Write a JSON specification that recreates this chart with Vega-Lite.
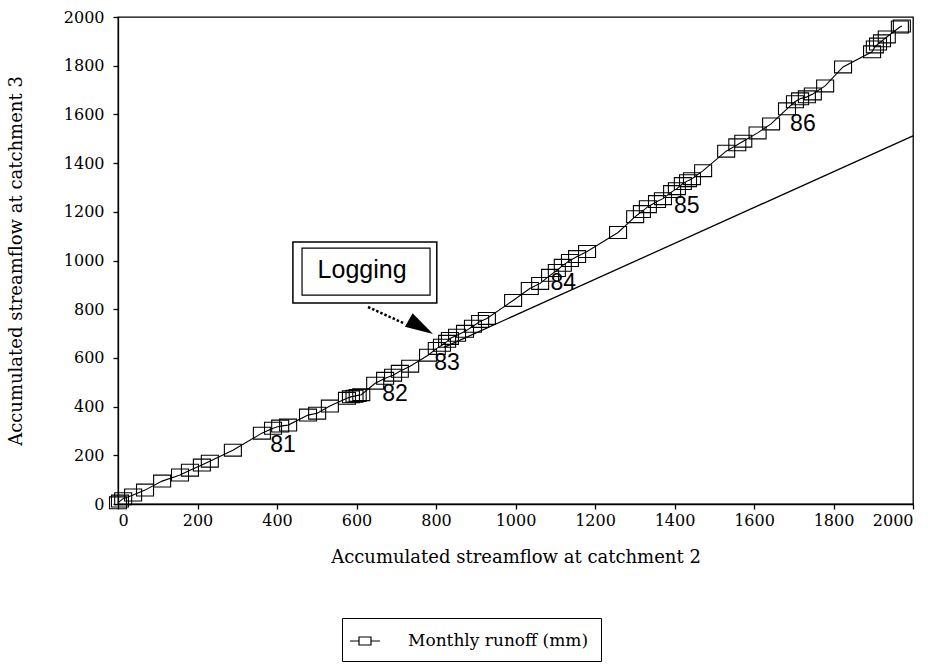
{
  "$schema": "https://vega.github.io/schema/vega-lite/v6.json",
  "autosize": {"type": "none"},
  "padding": {"left": 118, "top": 17, "right": 24, "bottom": 162},
  "width": 795,
  "height": 487,
  "background": "white",
  "config": {
    "view": {"stroke": "black", "strokeWidth": 1.3},
    "axis": {
      "grid": false,
      "domainColor": "black",
      "domainWidth": 1.3,
      "tickColor": "black",
      "tickWidth": 1.3,
      "tickSize": 5,
      "labelColor": "black",
      "labelFont": "DejaVu Serif",
      "labelFontSize": 16,
      "titleColor": "black",
      "titleFont": "DejaVu Serif",
      "titleFontSize": 18,
      "titleFontWeight": "normal",
      "format": "d"
    }
  },
  "datasets": {
    "runoff": [
      {"x": 0, "y": 5}, {"x": 5, "y": 12}, {"x": 13, "y": 22}, {"x": 38, "y": 37}, {"x": 68, "y": 57},
      {"x": 111, "y": 94}, {"x": 156, "y": 119}, {"x": 181, "y": 139}, {"x": 211, "y": 160}, {"x": 231, "y": 176},
      {"x": 289, "y": 221}, {"x": 362, "y": 291}, {"x": 390, "y": 311}, {"x": 408, "y": 320}, {"x": 428, "y": 324},
      {"x": 478, "y": 365}, {"x": 501, "y": 373}, {"x": 533, "y": 402}, {"x": 576, "y": 434}, {"x": 586, "y": 440},
      {"x": 595, "y": 443}, {"x": 603, "y": 446}, {"x": 612, "y": 449}, {"x": 647, "y": 496}, {"x": 672, "y": 516},
      {"x": 692, "y": 529}, {"x": 709, "y": 545}, {"x": 735, "y": 566}, {"x": 780, "y": 611}, {"x": 802, "y": 639},
      {"x": 815, "y": 652}, {"x": 828, "y": 668}, {"x": 835, "y": 680}, {"x": 853, "y": 693}, {"x": 873, "y": 709},
      {"x": 893, "y": 730}, {"x": 911, "y": 750}, {"x": 928, "y": 762}, {"x": 994, "y": 836}, {"x": 1036, "y": 885},
      {"x": 1062, "y": 906}, {"x": 1087, "y": 939}, {"x": 1104, "y": 959}, {"x": 1119, "y": 980}, {"x": 1137, "y": 1000},
      {"x": 1155, "y": 1016}, {"x": 1180, "y": 1037}, {"x": 1258, "y": 1115}, {"x": 1301, "y": 1180}, {"x": 1318, "y": 1201},
      {"x": 1333, "y": 1221}, {"x": 1356, "y": 1242}, {"x": 1371, "y": 1254}, {"x": 1394, "y": 1283}, {"x": 1406, "y": 1295},
      {"x": 1421, "y": 1316}, {"x": 1434, "y": 1328}, {"x": 1444, "y": 1336}, {"x": 1472, "y": 1369}, {"x": 1530, "y": 1449},
      {"x": 1558, "y": 1475}, {"x": 1573, "y": 1490}, {"x": 1609, "y": 1524}, {"x": 1643, "y": 1561}, {"x": 1683, "y": 1623},
      {"x": 1703, "y": 1652}, {"x": 1716, "y": 1664}, {"x": 1733, "y": 1672}, {"x": 1748, "y": 1684}, {"x": 1779, "y": 1717},
      {"x": 1824, "y": 1795}, {"x": 1897, "y": 1857}, {"x": 1904, "y": 1877}, {"x": 1912, "y": 1889}, {"x": 1922, "y": 1902},
      {"x": 1934, "y": 1918}, {"x": 1967, "y": 1959}, {"x": 1972, "y": 1963}
    ],
    "trend": [{"x": 820, "y": 643}, {"x": 2000, "y": 1512}],
    "years": [
      {"x": 415, "y": 242, "label": "81"},
      {"x": 697, "y": 451, "label": "82"},
      {"x": 828, "y": 578, "label": "83"},
      {"x": 1120, "y": 906, "label": "84"},
      {"x": 1431, "y": 1225, "label": "85"},
      {"x": 1723, "y": 1560, "label": "86"}
    ],
    "outerBox": [{"x": 440, "x2": 802, "y": 825, "y2": 1076}],
    "innerBox": [{"x": 463, "x2": 785, "y": 858, "y2": 1051}],
    "note": [{"x": 614, "y": 961, "label": "Logging"}],
    "shaft": [{"x": 629, "y": 809, "x2": 722, "y2": 740}],
    "head": [{"x": 762, "y": 727}]
  },
  "encoding": {
    "x": {"field": "x", "type": "quantitative", "scale": {"domain": [0, 2000], "nice": false, "zero": false},
      "axis": {"values": [0, 200, 400, 600, 800, 1000, 1200, 1400, 1600, 1800, 2000], "labelPadding": 3, "title": "Accumulated streamflow at catchment 2", "titlePadding": 20}},
    "y": {"field": "y", "type": "quantitative", "scale": {"domain": [0, 2000], "nice": false, "zero": false},
      "axis": {"values": [0, 200, 400, 600, 800, 1000, 1200, 1400, 1600, 1800, 2000], "labelPadding": 9, "title": "Accumulated streamflow at catchment 3", "titlePadding": 38}}
  },
  "layer": [
    {"data": {"name": "runoff"}, "mark": {"type": "line", "color": "black", "strokeWidth": 1.1}},
    {"data": {"name": "runoff"},
      "mark": {"type": "point", "shape": "M-1,-0.7L1,-0.7L1,0.7L-1,0.7Z", "size": 289, "filled": false, "strokeWidth": 1.1, "opacity": 1},
      "encoding": {"color": {"datum": "Monthly runoff (mm)", "scale": {"range": ["black"]},
        "legend": {"orient": "none", "legendX": 224, "legendY": 601, "title": null, "strokeColor": "black", "padding": 12,
          "symbolType": "M-1.5,0L-0.6,0M0.6,0L1.5,0M-0.6,-0.4L0.6,-0.4L0.6,0.4L-0.6,0.4Z", "symbolSize": 400,
          "symbolStrokeWidth": 1.2, "symbolStrokeColor": "black", "symbolFillColor": "transparent",
          "labelFont": "DejaVu Serif", "labelFontSize": 17, "labelColor": "black", "labelOffset": 32, "labelLimit": 400}}}},
    {"data": {"name": "trend"}, "mark": {"type": "line", "color": "black", "strokeWidth": 1.3}},
    {"data": {"name": "years"}, "mark": {"type": "text", "font": "Liberation Sans", "fontSize": 23, "color": "black", "align": "center", "baseline": "middle"},
      "encoding": {"text": {"field": "label"}}},
    {"data": {"name": "outerBox"}, "mark": {"type": "rect", "fill": "white", "stroke": "black", "strokeWidth": 1.5},
      "encoding": {"x2": {"field": "x2"}, "y2": {"field": "y2"}}},
    {"data": {"name": "innerBox"}, "mark": {"type": "rect", "fill": "white", "stroke": "black", "strokeWidth": 1.2},
      "encoding": {"x2": {"field": "x2"}, "y2": {"field": "y2"}}},
    {"data": {"name": "note"}, "mark": {"type": "text", "font": "Liberation Sans", "fontSize": 25, "color": "black", "align": "center", "baseline": "middle"},
      "encoding": {"text": {"field": "label"}}},
    {"data": {"name": "shaft"}, "mark": {"type": "rule", "color": "black", "strokeWidth": 2.5, "strokeDash": [2.5, 2]},
      "encoding": {"x2": {"field": "x2"}, "y2": {"field": "y2"}}},
    {"data": {"name": "head"}, "mark": {"type": "point", "shape": "M1,0L-1,-0.55L-1,0.55Z", "size": 784, "filled": true, "color": "black", "opacity": 1, "angle": 30}}
  ]
}
